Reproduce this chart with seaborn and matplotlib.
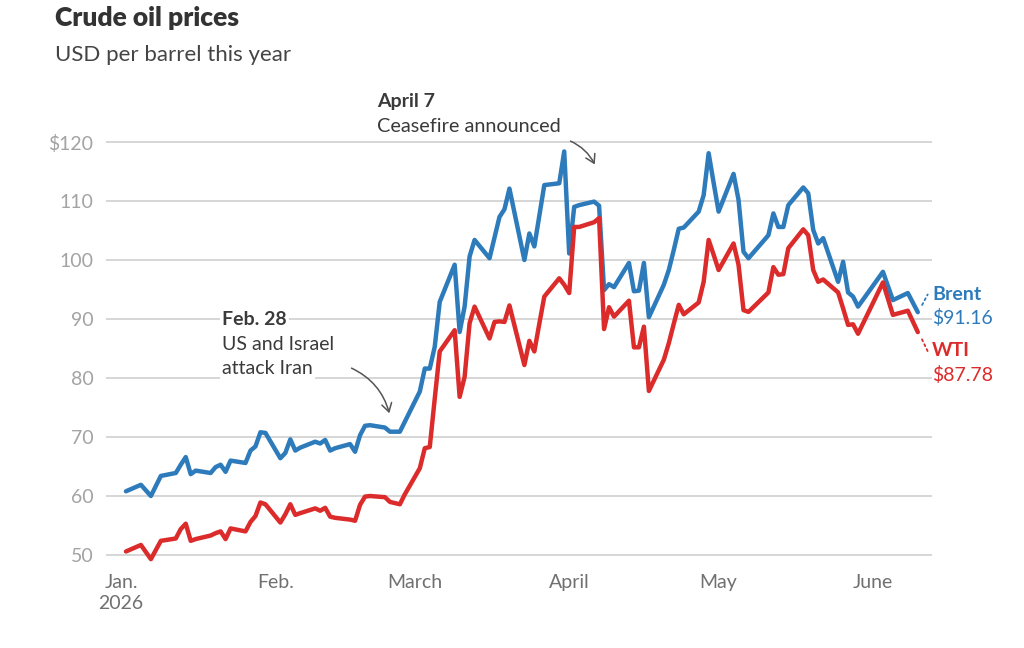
import matplotlib
matplotlib.use("Agg")
import matplotlib.pyplot as plt
import matplotlib.dates as mdates
import seaborn as sns
import pandas as pd
import numpy as np

dates = [
    "2026-01-02", "2026-01-05", "2026-01-07", "2026-01-09", "2026-01-12", "2026-01-13", "2026-01-14", "2026-01-15", "2026-01-16",
    "2026-01-19", "2026-01-20", "2026-01-21", "2026-01-22", "2026-01-23", "2026-01-26", "2026-01-27", "2026-01-28", "2026-01-29", "2026-01-30",
    "2026-02-02", "2026-02-03", "2026-02-04", "2026-02-05", "2026-02-06", "2026-02-09", "2026-02-10", "2026-02-11", "2026-02-12", "2026-02-13",
    "2026-02-16", "2026-02-17", "2026-02-18", "2026-02-19", "2026-02-20", "2026-02-23", "2026-02-24", "2026-02-25", "2026-02-26", "2026-02-27",
    "2026-03-02", "2026-03-03", "2026-03-04", "2026-03-05", "2026-03-06", "2026-03-09", "2026-03-10", "2026-03-11", "2026-03-12", "2026-03-13",
    "2026-03-16", "2026-03-17", "2026-03-18", "2026-03-19", "2026-03-20", "2026-03-23", "2026-03-24", "2026-03-25", "2026-03-26", "2026-03-27",
    "2026-03-30", "2026-03-31", "2026-04-01", "2026-04-02", "2026-04-03", "2026-04-06", "2026-04-07", "2026-04-08", "2026-04-09", "2026-04-10",
    "2026-04-13", "2026-04-14", "2026-04-15", "2026-04-16", "2026-04-17", "2026-04-20", "2026-04-21", "2026-04-22", "2026-04-23", "2026-04-24",
    "2026-04-27", "2026-04-28", "2026-04-29", "2026-04-30", "2026-05-01", "2026-05-04", "2026-05-05", "2026-05-06", "2026-05-07",
    "2026-05-11", "2026-05-12", "2026-05-13", "2026-05-14", "2026-05-15", "2026-05-18", "2026-05-19", "2026-05-20", "2026-05-21", "2026-05-22",
    "2026-05-25", "2026-05-26", "2026-05-27", "2026-05-28", "2026-05-29", "2026-06-03", "2026-06-05", "2026-06-08", "2026-06-10",
]

brent = [
    60.8, 61.9, 60.0, 63.4, 63.9, 65.3, 66.6, 63.7, 64.3,
    63.9, 64.9, 65.3, 64.1, 66.0, 65.6, 67.7, 68.4, 70.8, 70.7,
    66.4, 67.3, 69.6, 67.7, 68.2, 69.2, 68.9, 69.5, 67.7, 68.1,
    68.8, 67.5, 70.3, 71.9, 72.0, 71.6, 70.9, 70.9, 70.9, 72.6,
    77.7, 81.6, 81.6, 85.3, 92.9, 99.2, 87.8, 92.1, 100.6, 103.4,
    100.3, 103.8, 107.3, 108.6, 112.1, 100.0, 104.5, 102.3, 107.5, 112.7,
    113.0, 118.4, 101.1, 109.0, 109.3, 109.9, 109.2, 94.9, 95.9, 95.4,
    99.5, 94.7, 94.8, 99.5, 90.3, 95.8, 98.3, 101.7, 105.3, 105.5,
    108.2, 111.0, 118.1, 113.1, 108.2, 114.6, 110.2, 101.4, 100.3,
    104.2, 107.9, 105.6, 105.6, 109.3, 112.3, 111.3, 105.1, 102.8, 103.7,
    96.3, 99.7, 94.5, 93.8, 92.1, 98.0, 93.2, 94.4, 91.16,
]

wti = [
    50.6, 51.7, 49.3, 52.4, 52.8, 54.4, 55.3, 52.4, 52.7,
    53.3, 53.7, 54.0, 52.7, 54.5, 54.0, 55.6, 56.6, 58.9, 58.6,
    55.5, 56.9, 58.6, 56.8, 57.1, 57.9, 57.5, 58.0, 56.5, 56.3,
    56.0, 55.8, 58.5, 59.9, 60.0, 59.8, 59.0, 58.8, 58.6, 60.3,
    64.7, 68.1, 68.3, 76.5, 84.5, 88.1, 76.8, 80.2, 89.3, 92.1,
    86.7, 89.5, 89.6, 89.5, 92.3, 82.2, 86.3, 84.5, 89.2, 93.8,
    96.9, 95.8, 94.4, 105.6, 105.6, 106.4, 107.1, 88.3, 92.0, 90.4,
    93.1, 85.2, 85.2, 88.7, 77.8, 83.1, 85.9, 89.2, 92.4, 90.8,
    92.8, 96.3, 103.4, 100.9, 98.3, 102.8, 99.2, 91.5, 91.2,
    94.5, 98.8, 97.5, 97.6, 102.0, 105.2, 104.2, 98.3, 96.3, 96.7,
    94.5, 91.8, 89.0, 89.1, 87.5, 96.2, 90.7, 91.4, 87.78,
]

series_names = ["Brent", "WTI"]
y_ticks = [50, 60, 70, 80, 90, 100, 110, 120]
y_tick_labels = ["50", "60", "70", "80", "90", "100", "110", "$120"]
x_tick_dates = ["2026-01-01", "2026-02-01", "2026-03-01", "2026-04-01", "2026-05-01", "2026-06-01"]
x_tick_labels = ["Jan.\n2026", "Feb.", "March", "April", "May", "June"]

BLUE = "#2d7bbb"
RED = "#dc2b2b"
FONT = "Lato"

sns.set_theme(style="white")
plt.rcParams["font.family"] = [FONT, "DejaVu Sans"]

df = pd.DataFrame({"date": pd.to_datetime(dates), "Brent": brent, "WTI": wti})
long = df.melt(id_vars="date", value_vars=series_names, var_name="series", value_name="price")

W, H = 1024, 648
fig = plt.figure(figsize=(W / 100, H / 100), dpi=100)

def fx(px):
    return px / W

def fy(py):
    return 1 - py / H

ymin, ymax = 48.0, 121.5
px_per_unit = (555 - 142) / 70.0
bottom_px = 555 + (50 - ymin) * px_per_unit
top_px = 142 - (ymax - 120) * px_per_unit
left_px, right_px = 106, 932
ax = fig.add_axes([fx(left_px), fy(bottom_px), (right_px - left_px) / W, (bottom_px - top_px) / H])

sns.lineplot(data=long, x="date", y="price", hue="series", palette={"Brent": BLUE, "WTI": RED},
             hue_order=series_names, linewidth=3.2, ax=ax, legend=False, estimator=None, sort=True)

# x limits: Jan 1 sits at px 121, ~4.98 px/day
jan1 = mdates.date2num(pd.Timestamp("2026-01-01"))
ppd = 4.98
ax.set_xlim(jan1 - (121 - left_px) / ppd, jan1 + (right_px - 121) / ppd)
ax.set_ylim(ymin, ymax)

ax.set_yticks(y_ticks)
ax.set_yticklabels(y_tick_labels)
ax.set_xticks(pd.to_datetime(x_tick_dates))
ax.set_xticklabels(x_tick_labels, linespacing=1.3)
ax.tick_params(axis="y", length=0, pad=9, labelsize=14, labelcolor="#a3a3a3")
ax.tick_params(axis="x", length=0, pad=5, labelsize=14, labelcolor="#707070")

ax.set_xlabel("")
ax.set_ylabel("")
ax.grid(axis="y", color="#d3d3d3", linewidth=1.3)
ax.grid(axis="x", visible=False)
for s in ax.spines.values():
    s.set_visible(False)
ax.set_axisbelow(True)

TXT = "#3a3a3a"
# Title & subtitle
fig.text(fx(55), fy(18), "Crude oil prices", fontsize=19, fontweight="heavy", color="#333333",
         ha="left", va="center")
fig.text(fx(55), fy(55), "USD per barrel this year", fontsize=16, color="#444444",
         ha="left", va="center")

# Annotations
bbox = dict(facecolor="white", edgecolor="none", pad=1.5)
fig.text(fx(222), fy(319), "Feb. 28", fontsize=14, fontweight="bold", color=TXT,
         ha="left", va="center", bbox=bbox)
fig.text(fx(222), fy(344), "US and Israel", fontsize=14, color=TXT,
         ha="left", va="center", bbox=bbox)
fig.text(fx(222), fy(369), "attack Iran", fontsize=14, color=TXT,
         ha="left", va="center", bbox=bbox)
fig.text(fx(377), fy(101), "April 7", fontsize=14, fontweight="bold", color=TXT,
         ha="left", va="center")
fig.text(fx(377), fy(126), "Ceasefire announced", fontsize=14.3, color=TXT,
         ha="left", va="center")

arrowprops = dict(arrowstyle="->,head_length=0.5,head_width=0.3", color="#555555", lw=1.1,
                  connectionstyle="arc3,rad=-0.25")
ax.annotate("", xy=(fx(390), fy(416)), xycoords="figure fraction",
            xytext=(fx(349), fy(367)), textcoords="figure fraction", arrowprops=arrowprops)
ax.annotate("", xy=(fx(596), fy(167)), xycoords="figure fraction",
            xytext=(fx(568), fy(140)), textcoords="figure fraction",
            arrowprops=dict(arrowstyle="->,head_length=0.5,head_width=0.3", color="#555555", lw=1.1,
                            connectionstyle="arc3,rad=-0.2"))

# End labels with dotted leaders from last data points
last_date = df["date"].iloc[-1]
last_b = df["Brent"].iloc[-1]
last_w = df["WTI"].iloc[-1]
lx = mdates.date2num(last_date)
ax.annotate("", xy=(fx(929), fy(292)), xycoords="figure fraction",
            xytext=(lx + 0.6, last_b + 0.8), textcoords="data",
            arrowprops=dict(arrowstyle="-", color=BLUE, lw=1.3, linestyle=(0, (1.2, 1.8))))
ax.annotate("", xy=(fx(929), fy(354)), xycoords="figure fraction",
            xytext=(lx + 0.6, last_w - 0.8), textcoords="data",
            arrowprops=dict(arrowstyle="-", color=RED, lw=1.3, linestyle=(0, (1.2, 1.8))))

fig.text(fx(932), fy(294), "Brent", fontsize=14, fontweight="bold", color=BLUE, ha="left", va="center")
fig.text(fx(932), fy(318), f"${last_b:.2f}", fontsize=14, color=BLUE, ha="left", va="center")
fig.text(fx(932), fy(351), "WTI", fontsize=14, fontweight="bold", color=RED, ha="left", va="center")
fig.text(fx(932), fy(375), f"${last_w:.2f}", fontsize=14, color=RED, ha="left", va="center")

fig.savefig("out.png", dpi=100, facecolor="white")
